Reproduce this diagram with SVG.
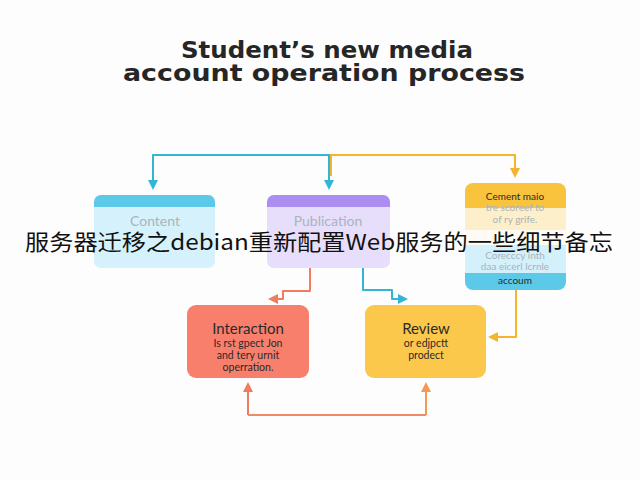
<svg xmlns="http://www.w3.org/2000/svg" width="640" height="480" viewBox="0 0 640 480">
<defs>
<style>
.title{font-family:"DejaVu Sans","Liberation Sans",sans-serif;font-weight:bold;font-size:23px;fill:#262626;text-anchor:middle}
.lbl{font-family:"Lato","Liberation Sans",sans-serif;font-size:14px;text-anchor:middle}
.big{font-size:15px}
.grey{fill:#a9b4bb}
.dark{fill:#2a2a2a}
.small{font-size:10.5px}
.tiny{font-size:10px}
.c{fill:none;stroke-width:2;stroke-linejoin:round}
.overlay{font-family:"Noto Sans CJK SC","Noto Sans",sans-serif;font-size:22px;fill:#111}
</style>
<marker id="aC" viewBox="0 0 10 10" refX="8" refY="5" markerWidth="5" markerHeight="5" orient="auto"><path d="M0,0 L10,5 L0,10 z" fill="#35b5d6"/></marker>
<marker id="aY" viewBox="0 0 10 10" refX="8" refY="5" markerWidth="5" markerHeight="5" orient="auto"><path d="M0,0 L10,5 L0,10 z" fill="#f4b52c"/></marker>
<marker id="aO" viewBox="0 0 10 10" refX="8" refY="5" markerWidth="5" markerHeight="5" orient="auto"><path d="M0,0 L10,5 L0,10 z" fill="#ef7c5e"/></marker>
<marker id="aO2" viewBox="0 0 10 10" refX="8" refY="5" markerWidth="5" markerHeight="5" orient="auto"><path d="M0,0 L10,5 L0,10 z" fill="#f29a55"/></marker>
</defs>
<rect width="640" height="480" fill="#fdfdfd"/>
<g id="title">
<text class="title" x="327" y="58" textLength="292" lengthAdjust="spacingAndGlyphs">Student’s new media</text>
<text class="title" x="324" y="81" textLength="402" lengthAdjust="spacingAndGlyphs">account operation process</text>
</g>
<g id="connectors">
<path class="c" stroke="#35b5d6" d="M330,155 H153 V188" marker-end="url(#aC)"/>
<path class="c" stroke="#f4b52c" d="M330,155 H515 V176" marker-end="url(#aY)"/>
<path class="c" stroke="#f4b52c" d="M331,155 V176"/>
<path class="c" stroke="#35b5d6" d="M329,155 V188" marker-end="url(#aC)"/>
<path class="c" stroke="#ef7c5e" d="M310,268 V291 H283 V299 H270" marker-end="url(#aO)"/>
<path class="c" stroke="#35b5d6" d="M363,268 V290 H392 V299 H406" marker-end="url(#aC)"/>
<path class="c" stroke="#f4b52c" d="M516,290 V337 H490" marker-end="url(#aY)"/>
<path class="c" stroke="#ef7c5e" d="M248,415 V384" marker-end="url(#aO)"/>
<path class="c" stroke="#ef8a66" d="M248,415 H426"/>
<path class="c" stroke="#f29a55" d="M426,415 V384" marker-end="url(#aO2)"/>
</g>
<g id="content">
<rect x="94" y="195" width="121" height="73" rx="7" fill="#d5f1fb"/>
<path d="M94,207 V202 a7,7 0 0 1 7,-7 H208 a7,7 0 0 1 7,7 V207 z" fill="#5cc9e8"/>
<text class="lbl grey" x="155" y="226">Content</text>
</g>
<g id="publication">
<rect x="267" y="195" width="123" height="73" rx="7" fill="#e7defc"/>
<path d="M267,207 V202 a7,7 0 0 1 7,-7 H383 a7,7 0 0 1 7,7 V207 z" fill="#aa8ff0"/>
<text class="lbl grey" x="328" y="226">Publication</text>
</g>
<g id="account">
<rect x="465" y="183" width="101" height="107" rx="8" fill="#fdfbf4"/>
<path d="M465,208 V191 a8,8 0 0 1 8,-8 H558 a8,8 0 0 1 8,8 V208 z" fill="#f9c33e"/>
<rect x="465" y="208" width="101" height="22" fill="#fdefc9"/>
<rect x="465" y="245" width="101" height="28" fill="#d4f0fb"/>
<path d="M465,273 H566 V282 a8,8 0 0 1 -8,8 H473 a8,8 0 0 1 -8,-8 z" fill="#5cc9e8"/>
<text class="lbl dark tiny" x="515" y="200">Cement maio</text>
<text class="lbl grey tiny" x="515" y="211">tre scoreef to</text>
<text class="lbl grey tiny" x="515" y="223">of ry grife.</text>
<text class="lbl grey tiny" x="515" y="259">Corecccy inth</text>
<text class="lbl grey tiny" x="515" y="270">daa eicerl lcrnle</text>
<text class="lbl dark tiny" x="515" y="284">accoum</text>
</g>
<g id="interaction">
<rect x="187" y="305" width="122" height="73" rx="9" fill="#f87f6c"/>
<text class="lbl dark big" x="248" y="334">Interaction</text>
<text class="lbl dark small" x="248" y="347">Is rst gpect Jon</text>
<text class="lbl dark small" x="248" y="359">and tery urnit</text>
<text class="lbl dark small" x="248" y="371">operration.</text>
</g>
<g id="review">
<rect x="365" y="305" width="121" height="73" rx="9" fill="#fcc84b"/>
<text class="lbl dark big" x="426" y="334">Review</text>
<text class="lbl dark small" x="426" y="347">or edjpctt</text>
<text class="lbl dark small" x="426" y="359">prodect</text>
</g>
<text class="overlay" x="25" y="250" textLength="588" lengthAdjust="spacingAndGlyphs">服务器迁移之debian重新配置Web服务的一些细节备忘</text>
</svg>
